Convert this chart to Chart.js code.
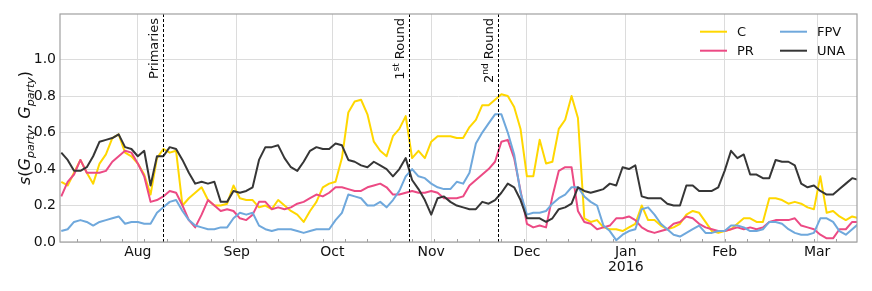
<!DOCTYPE html>
<html>
<head>
<meta charset="utf-8">
<script src="https://cdn.jsdelivr.net/npm/chart.js@4.4.1/dist/chart.umd.min.js"></script>
<style>
  body { margin: 0; background: #fff; }
  #wrap { width: 872px; height: 291px; }
</style>
</head>
<body>
<div id="wrap"><canvas id="myChart" width="872" height="291"></canvas></div>
<script>
// one sample every 2 days, x counted in days after 1 Aug 2015
var startDay = -24;
var stepDays = 2;

var cVals = [
  0.33, 0.31, 0.38, 0.45, 0.38, 0.32, 0.43, 0.48, 0.57, 0.59, 0.49, 0.47, 0.43, 0.37, 0.26, 0.46, 0.51, 0.49, 0.50, 0.20, 0.24, 0.27, 0.30, 0.23, 0.20, 0.20,
  0.21, 0.31, 0.24, 0.23, 0.23, 0.19, 0.20, 0.18, 0.23, 0.20, 0.17, 0.15, 0.11, 0.17, 0.22, 0.30, 0.32, 0.33, 0.46, 0.71, 0.77, 0.78, 0.70, 0.55, 0.50,
  0.47, 0.58, 0.62, 0.69, 0.46, 0.50, 0.46, 0.55, 0.58, 0.58, 0.58, 0.57, 0.57, 0.63, 0.67, 0.75, 0.75, 0.78, 0.81, 0.80, 0.74, 0.62, 0.36, 0.36, 0.56,
  0.43, 0.44, 0.62, 0.67, 0.80, 0.68, 0.13, 0.11, 0.12, 0.08, 0.07, 0.07, 0.06, 0.08, 0.10, 0.20, 0.12, 0.12, 0.09, 0.07, 0.08, 0.10, 0.15, 0.17, 0.16,
  0.11, 0.06, 0.05, 0.06, 0.07, 0.10, 0.13, 0.13, 0.11, 0.11, 0.24, 0.24, 0.23, 0.21, 0.22, 0.21, 0.19, 0.18, 0.36, 0.16, 0.17, 0.14, 0.12, 0.14, 0.13
];
var prVals = [
  0.25, 0.33, 0.37, 0.45, 0.38, 0.38, 0.38, 0.39, 0.44, 0.47, 0.50, 0.49, 0.43, 0.36, 0.22, 0.23, 0.25, 0.28, 0.27, 0.20, 0.12, 0.08, 0.15, 0.23, 0.20, 0.17,
  0.18, 0.17, 0.13, 0.12, 0.15, 0.22, 0.22, 0.18, 0.19, 0.18, 0.19, 0.21, 0.22, 0.24, 0.26, 0.25, 0.27, 0.30, 0.30, 0.29, 0.28, 0.28, 0.30, 0.31, 0.32,
  0.30, 0.26, 0.26, 0.27, 0.28, 0.27, 0.27, 0.28, 0.27, 0.24, 0.24, 0.24, 0.25, 0.31, 0.34, 0.37, 0.40, 0.44, 0.55, 0.56, 0.46, 0.28, 0.10, 0.08, 0.09,
  0.08, 0.25, 0.39, 0.41, 0.41, 0.17, 0.11, 0.10, 0.07, 0.08, 0.09, 0.13, 0.13, 0.14, 0.12, 0.08, 0.06, 0.05, 0.06, 0.07, 0.10, 0.11, 0.14, 0.13, 0.10,
  0.08, 0.07, 0.06, 0.06, 0.07, 0.08, 0.07, 0.08, 0.07, 0.08, 0.11, 0.12, 0.12, 0.12, 0.13, 0.09, 0.08, 0.07, 0.04, 0.02, 0.02, 0.07, 0.07, 0.11, 0.11
];
var fpvVals = [
  0.06, 0.07, 0.11, 0.12, 0.11, 0.09, 0.11, 0.12, 0.13, 0.14, 0.10, 0.11, 0.11, 0.10, 0.10, 0.16, 0.19, 0.22, 0.23, 0.17, 0.12, 0.09, 0.08, 0.07, 0.07, 0.08,
  0.08, 0.13, 0.16, 0.15, 0.16, 0.09, 0.07, 0.06, 0.07, 0.07, 0.07, 0.06, 0.05, 0.06, 0.07, 0.07, 0.07, 0.12, 0.16, 0.26, 0.25, 0.24, 0.20, 0.20, 0.22,
  0.19, 0.23, 0.28, 0.36, 0.40, 0.36, 0.35, 0.32, 0.30, 0.29, 0.29, 0.33, 0.32, 0.38, 0.54, 0.60, 0.65, 0.70, 0.70, 0.60, 0.48, 0.27, 0.15, 0.16, 0.16,
  0.17, 0.21, 0.24, 0.26, 0.30, 0.30, 0.25, 0.22, 0.20, 0.09, 0.06, 0.01, 0.04, 0.06, 0.07, 0.18, 0.19, 0.15, 0.10, 0.07, 0.04, 0.03, 0.05, 0.07, 0.09,
  0.05, 0.05, 0.06, 0.06, 0.09, 0.09, 0.08, 0.06, 0.06, 0.07, 0.11, 0.11, 0.10, 0.07, 0.05, 0.04, 0.04, 0.05, 0.13, 0.13, 0.11, 0.06, 0.04, 0.07, 0.10
];
var unaVals = [
  0.49, 0.45, 0.39, 0.39, 0.41, 0.47, 0.55, 0.56, 0.57, 0.59, 0.52, 0.51, 0.47, 0.50, 0.31, 0.47, 0.47, 0.52, 0.51, 0.45, 0.38, 0.32, 0.33, 0.32, 0.33, 0.22,
  0.22, 0.28, 0.27, 0.28, 0.30, 0.45, 0.52, 0.52, 0.53, 0.46, 0.41, 0.39, 0.44, 0.50, 0.52, 0.51, 0.51, 0.54, 0.53, 0.45, 0.44, 0.42, 0.41, 0.44, 0.42,
  0.40, 0.36, 0.40, 0.46, 0.34, 0.29, 0.23, 0.15, 0.24, 0.25, 0.22, 0.20, 0.19, 0.18, 0.18, 0.22, 0.21, 0.23, 0.27, 0.32, 0.30, 0.23, 0.13, 0.13, 0.13,
  0.11, 0.13, 0.18, 0.19, 0.21, 0.30, 0.28, 0.27, 0.28, 0.29, 0.32, 0.31, 0.41, 0.40, 0.42, 0.25, 0.24, 0.24, 0.24, 0.21, 0.20, 0.20, 0.31, 0.31, 0.28,
  0.28, 0.28, 0.30, 0.39, 0.50, 0.46, 0.48, 0.37, 0.37, 0.35, 0.35, 0.45, 0.44, 0.44, 0.42, 0.32, 0.30, 0.31, 0.28, 0.26, 0.26, 0.29, 0.32, 0.35, 0.34
];

// month starts (days after 1 Aug 2015) and their labels
var monthDays = [0, 31, 61, 92, 122, 153, 184, 213];
var monthLabels = ['Aug', 'Sep', 'Oct', 'Nov', 'Dec', ['Jan', '2016'], 'Feb', 'Mar'];
var yTicks = [0, 0.2, 0.4, 0.6, 0.8, 1.0];

// election days: Primaries 9 Aug, 1st round 25 Oct, 2nd round 22 Nov
var eventDays = [8, 85, 113];
var eventNames = [['Primaries', '', ''], ['1', 'st', ' Round'], ['2', 'nd', ' Round']];

var seriesNames = ['C', 'PR', 'FPV', 'UNA'];
var seriesColors = ['#ffd700', '#ec4a84', '#6fa8dc', '#363636'];

var FONT = 'DejaVu Sans';

function toPoints(vals) {
  return vals.map(function (v, i) { return { x: startDay + i * stepDays, y: v }; });
}

// draw a row of text pieces along the baseline, starting at x0
function drawPieces(ctx, pieces, x0) {
  var x = x0;
  pieces.forEach(function (p) {
    ctx.font = p.font;
    ctx.fillText(p.t, x, p.dy || 0);
    x += ctx.measureText(p.t).width;
  });
}
function piecesWidth(ctx, pieces) {
  var w = 0;
  pieces.forEach(function (p) { ctx.font = p.font; w += ctx.measureText(p.t).width; });
  return w;
}

var extras = {
  id: 'extras',
  afterDatasetsDraw: function (chart) {
    var ctx = chart.ctx, a = chart.chartArea, xs = chart.scales.x;
    ctx.save();

    // dashed election lines
    ctx.strokeStyle = '#000';
    ctx.lineWidth = 1;
    ctx.setLineDash([3, 2]);
    eventDays.forEach(function (d) {
      var px = Math.round(xs.getPixelForValue(d)) + 0.5;
      ctx.beginPath();
      ctx.moveTo(px, a.top);
      ctx.lineTo(px, a.bottom);
      ctx.stroke();
    });
    ctx.setLineDash([]);

    // rotated labels next to the lines
    ctx.fillStyle = '#111';
    ctx.textBaseline = 'alphabetic';
    ctx.textAlign = 'left';
    eventDays.forEach(function (d, i) {
      var n = eventNames[i];
      var pieces = [
        { t: n[0], font: '13px ' + FONT },
        { t: n[1], font: '9px ' + FONT, dy: -5 },
        { t: n[2], font: '13px ' + FONT }
      ];
      var px = xs.getPixelForValue(d);
      ctx.save();
      ctx.translate(px - 5, a.top + 4);
      ctx.rotate(-Math.PI / 2);
      drawPieces(ctx, pieces, -piecesWidth(ctx, pieces));
      ctx.restore();
    });

    // frame
    ctx.strokeStyle = '#a0a0a0';
    ctx.lineWidth = 1.2;
    ctx.strokeRect(a.left, a.top, a.right - a.left, a.bottom - a.top);

    // weekly minor ticks (Mondays)
    ctx.strokeStyle = '#a0a0a0';
    ctx.lineWidth = 1;
    for (var m = -19; m <= 225; m += 7) {
      var mx = Math.round(xs.getPixelForValue(m)) + 0.5;
      ctx.beginPath();
      ctx.moveTo(mx, a.bottom);
      ctx.lineTo(mx, a.bottom - 3);
      ctx.stroke();
    }

    // legend, two columns
    var cols = [[0, 1], [2, 3]];
    var colX = [a.right - 157, a.right - 77];
    var rowY = [a.top + 17.7, a.top + 36.7];
    ctx.font = '13px ' + FONT;
    ctx.textBaseline = 'middle';
    cols.forEach(function (col, ci) {
      col.forEach(function (si, ri) {
        ctx.strokeStyle = seriesColors[si];
        ctx.lineWidth = 2;
        ctx.beginPath();
        ctx.moveTo(colX[ci], rowY[ri]);
        ctx.lineTo(colX[ci] + 27, rowY[ri]);
        ctx.stroke();
        ctx.fillStyle = '#111';
        ctx.fillText(seriesNames[si], colX[ci] + 37, rowY[ri] + 1);
      });
    });

    // y axis title s(G_party, G_party)
    var it = 'italic 16px ' + FONT, up = '16px ' + FONT, sub = 'italic 11px ' + FONT;
    var title = [
      { t: 's', font: it }, { t: '(', font: up }, { t: 'G', font: it }, { t: 'party', font: sub, dy: 4 },
      { t: ', ', font: up }, { t: 'G', font: it }, { t: 'party', font: sub, dy: 4 }, { t: ')', font: up }
    ];
    ctx.fillStyle = '#111';
    ctx.textBaseline = 'alphabetic';
    ctx.save();
    ctx.translate(30, (a.top + a.bottom) / 2);
    ctx.rotate(-Math.PI / 2);
    drawPieces(ctx, title, -piecesWidth(ctx, title) / 2);
    ctx.restore();

    ctx.restore();
  }
};

var ctx = document.getElementById('myChart').getContext('2d');
var grid = { color: '#dcdcdc', lineWidth: 1, drawTicks: false };

window.myChart = new Chart(ctx, {
  type: 'line',
  data: {
    datasets: [
      { label: 'C', data: toPoints(cVals), borderColor: seriesColors[0], order: 4 },
      { label: 'PR', data: toPoints(prVals), borderColor: seriesColors[1], order: 3 },
      { label: 'FPV', data: toPoints(fpvVals), borderColor: seriesColors[2], order: 2 },
      { label: 'UNA', data: toPoints(unaVals), borderColor: seriesColors[3], order: 1 }
    ]
  },
  options: {
    responsive: false,
    animation: false,
    layout: { padding: { left: 0, right: 15, top: 14, bottom: 0 } },
    elements: {
      point: { radius: 0 },
      line: { borderWidth: 2, tension: 0, borderJoinStyle: 'round', fill: false }
    },
    plugins: { legend: { display: false }, tooltip: { enabled: false } },
    scales: {
      x: {
        type: 'linear',
        min: -24.4,
        max: 225.5,
        afterBuildTicks: function (s) { s.ticks = monthDays.map(function (d) { return { value: d }; }); },
        afterFit: function (s) { s.height = 49; },
        grid: grid,
        border: { display: false },
        ticks: {
          autoSkip: false, maxRotation: 0, padding: 3, color: '#111',
          font: { family: FONT, size: 14, lineHeight: 1.05 },
          callback: function (v) { return monthLabels[monthDays.indexOf(v)]; }
        }
      },
      y: {
        min: 0,
        max: 1.25,
        afterBuildTicks: function (s) { s.ticks = yTicks.map(function (v) { return { value: v }; }); },
        afterFit: function (s) { s.width = 60; },
        grid: grid,
        border: { display: false },
        ticks: {
          padding: 4, color: '#111',
          font: { family: FONT, size: 14 },
          callback: function (v) { return v.toFixed(1); }
        }
      }
    }
  },
  plugins: [extras]
});
</script>
</body>
</html>
